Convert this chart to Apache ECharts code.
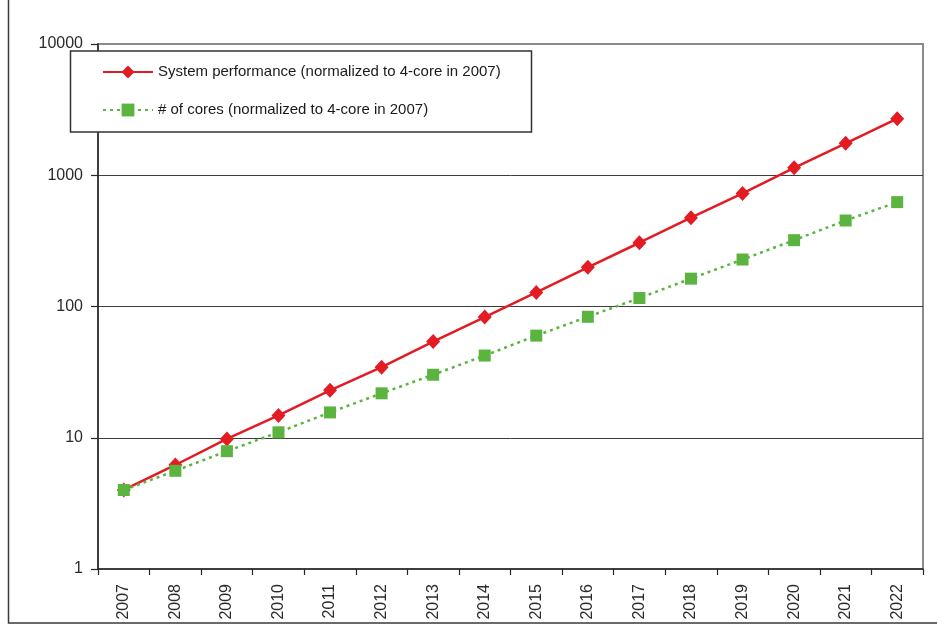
<!DOCTYPE html>
<html>
<head>
<meta charset="utf-8">
<title>System performance and core count, 2007-2022</title>
<script src="https://cdn.jsdelivr.net/npm/echarts@6/dist/echarts.min.js"></script>
<style>
  html, body { margin: 0; padding: 0; background: #ffffff; }
  #chart { width: 937px; height: 626px; }
</style>
</head>
<body>
<div id="chart"></div>
<script>
// Years on the category axis
const years = ['2007', '2008', '2009', '2010', '2011', '2012', '2013', '2014',
               '2015', '2016', '2017', '2018', '2019', '2020', '2021', '2022'];

// System performance, normalized to a 4-core machine in 2007
const systemPerformance = [4, 6.2, 9.8, 14.8, 23, 34.5, 54, 83,
                           128, 199, 306, 475, 727, 1140, 1750, 2700];

// Number of cores, normalized to a 4-core machine in 2007
const coreCount = [4, 5.6, 7.9, 11, 15.6, 21.8, 30.2, 42.3,
                   60, 83.5, 116, 163, 228, 320, 452, 624];

// Log-axis range (decades shown as tick labels)
const yMin = 1;
const yMax = 10000;

const seriesNames = [
  'System performance (normalized to 4-core in 2007)',
  '# of cores (normalized to 4-core in 2007)'
];

const FONT = '"Liberation Sans", Arial, sans-serif';
const RED = '#e31b23';
const GREEN = '#5cb440';
const AXIS = '#262626';

const chart = echarts.init(document.getElementById('chart'), null, { renderer: 'canvas' });

chart.setOption({
  backgroundColor: '#ffffff',
  animation: false,
  textStyle: { fontFamily: FONT },
  grid: {
    left: 98, right: 14, top: 44, bottom: 57,
    show: true,
    backgroundColor: '#ffffff',
    borderColor: '#8a8a8a',
    borderWidth: 2
  },
  xAxis: {
    type: 'category',
    data: years,
    boundaryGap: true,
    axisLine: { show: true, lineStyle: { color: AXIS, width: 1.5 } },
    axisTick: { show: true, length: 6, lineStyle: { color: AXIS, width: 1.2 } },
    axisLabel: {
      rotate: 90,
      margin: 15,
      fontSize: 16,
      color: '#2a2a2a',
      fontFamily: FONT
    },
    splitLine: { show: false }
  },
  yAxis: {
    type: 'log',
    logBase: 10,
    min: yMin,
    max: yMax,
    axisLine: { show: true, lineStyle: { color: AXIS, width: 1.5 } },
    axisTick: { show: true, length: 7, lineStyle: { color: AXIS, width: 1.2 } },
    axisLabel: {
      margin: 15,
      fontSize: 16,
      color: '#2a2a2a',
      fontFamily: FONT,
      formatter: (value) => String(Math.round(value))
    },
    splitLine: {
      show: true,
      showMinLine: false,
      showMaxLine: false,
      lineStyle: { color: '#3c3c3c', width: 1 }
    }
  },
  legend: {
    orient: 'vertical',
    left: 102,
    top: 64,
    padding: 0,
    itemWidth: 50,
    itemHeight: 16,
    itemGap: 22,
    z: 20,
    textStyle: { fontSize: 15, lineHeight: 16, color: '#1a1a1a', fontFamily: FONT },
    data: seriesNames
  },
  graphic: [
    // Legend frame with white fill
    {
      type: 'rect',
      z: 15,
      shape: { x: 70.5, y: 51, width: 461, height: 81 },
      style: { fill: '#ffffff', stroke: '#333333', lineWidth: 1.5 }
    },
    // Outer chart-area frame (left and bottom edges)
    {
      type: 'polyline',
      z: 15,
      shape: { points: [[8.5, 0], [8.5, 623], [937, 623]] },
      style: { fill: null, stroke: '#3a3a3a', lineWidth: 1.5 }
    }
  ],
  series: [
    {
      name: seriesNames[0],
      type: 'line',
      data: systemPerformance,
      symbol: 'diamond',
      symbolSize: [14, 15],
      lineStyle: { color: RED, width: 2.5 },
      itemStyle: { color: RED },
      z: 3
    },
    {
      name: seriesNames[1],
      type: 'line',
      data: coreCount,
      symbol: 'rect',
      symbolSize: 12,
      lineStyle: { color: GREEN, width: 2.5, type: [3, 4] },
      itemStyle: { color: GREEN },
      z: 4
    }
  ]
});
</script>
</body>
</html>
